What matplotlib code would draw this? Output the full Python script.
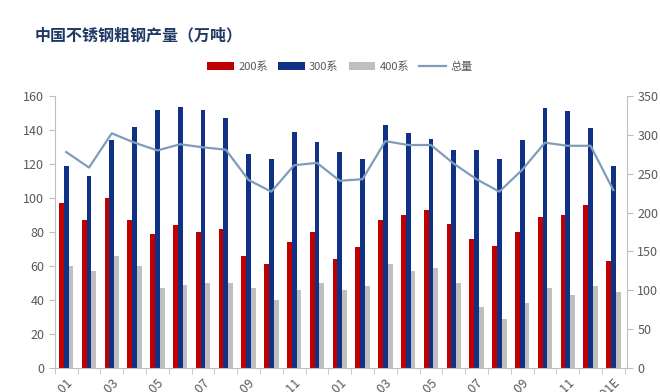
import matplotlib
matplotlib.use('Agg')
import matplotlib.pyplot as plt
import numpy as np

plt.rcParams['font.family'] = ['Noto Sans CJK SC', 'DejaVu Sans']

# 月份标签（底部被裁切，只显示末尾）
months = ['2023-01', '2023-02', '2023-03', '2023-04', '2023-05', '2023-06',
          '2023-07', '2023-08', '2023-09', '2023-10', '2023-11', '2023-12',
          '2024-01', '2024-02', '2024-03', '2024-04', '2024-05', '2024-06',
          '2024-07', '2024-08', '2024-09', '2024-10', '2024-11', '2024-12',
          '2025-01E']

s200 = [97, 87, 100, 87, 79, 84, 80, 82, 66, 61, 74, 80, 64,
        71, 87, 90, 93, 85, 76, 72, 80, 89, 90, 96, 63]
s300 = [119, 113, 134, 142, 152, 153.5, 152, 147, 126, 123, 139, 133, 127,
        123, 143, 138, 135, 128, 128, 123, 134, 153, 151, 141, 119]
s400 = [60, 57, 66, 60, 47, 49, 50, 50, 47, 40, 46, 50, 46,
        48, 61, 57, 59, 50, 36, 29, 38, 47, 43, 48, 45]
total = [278, 258, 302, 290, 280, 288, 284, 281, 242, 227, 261, 264, 241,
         243, 292, 287, 287, 263, 243, 227, 255, 290, 286, 286, 229]

c200 = '#C00000'
c300 = '#0F3286'
c400 = '#BFBFBF'
cline = '#7F9DBB'
grid_c = '#BFBFBF'
txt_c = '#595959'

fig = plt.figure(figsize=(6.6, 3.92), dpi=100)
ax = fig.add_axes([0.083, 0.061, 0.867, 0.694])
ax2 = ax.twinx()

x = np.arange(len(months))
w = 0.21
ax.bar(x - w, s200, w, color=c200, label='200系', zorder=2)
ax.bar(x, s300, w, color=c300, label='300系', zorder=2)
ax.bar(x + w, s400, w, color=c400, label='400系', zorder=2)
ax2.plot(x, total, color=cline, linewidth=1.6, label='总量')

ax.set_ylim(0, 160)
ax.set_yticks(np.arange(0, 161, 20))
ax2.set_ylim(0, 350)
ax2.set_yticks(np.arange(0, 351, 50))
ax.set_xlim(-0.5, 24.6)

ax.set_xticks(x[::2])
ax.set_xticklabels(months[::2], rotation=45, ha='right', va='top',
                   rotation_mode='anchor')
ax.set_xticks(np.arange(-0.5, 25, 1), minor=True)
ax.tick_params(axis='x', which='major', length=0, labelsize=9,
               labelcolor=txt_c, pad=6)
ax.tick_params(axis='x', which='minor', length=4, color=grid_c)

for a in (ax, ax2):
    for side in ('left', 'right', 'bottom'):
        a.spines[side].set_color(grid_c)
    a.spines['top'].set_visible(False)
ax.spines['right'].set_visible(False)
ax2.spines['left'].set_visible(False)
ax2.spines['bottom'].set_visible(False)
ax.tick_params(axis='y', labelsize=9, labelcolor=txt_c, color=grid_c, length=4)
ax2.tick_params(axis='y', labelsize=9, labelcolor=txt_c, color=grid_c, length=4)

fig.text(0.053, 0.91, '中国不锈钢粗钢产量（万吨）', fontsize=11.5, fontweight='bold',
         color='#1F3864', ha='left', va='center')

h1, l1 = ax.get_legend_handles_labels()
h2, l2 = ax2.get_legend_handles_labels()
fig.legend(h1 + h2, l1 + l2, loc='center', bbox_to_anchor=(0.515, 0.83),
           ncol=4, frameon=False, fontsize=8, labelcolor=txt_c,
           handlelength=2.4, handleheight=0.6, columnspacing=0.9,
           handletextpad=0.4)

plt.savefig('out.png', dpi=100)
